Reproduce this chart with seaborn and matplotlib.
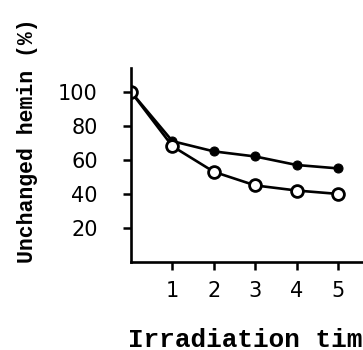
import numpy as np
import matplotlib
matplotlib.use('Agg')
import matplotlib.pyplot as plt
import seaborn as sns

# irradiation time and % unchanged hemin
time = [0, 1, 2, 3, 4, 5]
filled_pct = [100, 71, 65, 62, 57, 55]
open_pct = [100, 68, 53, 45, 42, 40]
x_ticks = [1, 2, 3, 4, 5]
y_ticks = [20, 40, 60, 80, 100]

sns.set_style('ticks')
plt.rcParams['font.family'] = ['DejaVu Sans']

fig = plt.figure(figsize=(3.63, 3.5), dpi=100)
ax = fig.add_axes([131/363, 88/350, 232/363, 194/350])

sns.lineplot(x=time, y=filled_pct, ax=ax, color='black', linewidth=1.9,
             marker='o', markersize=6.5, markerfacecolor='black',
             markeredgecolor='black')
sns.lineplot(x=time, y=open_pct, ax=ax, color='black', linewidth=1.9,
             marker='o', markersize=8.5, markerfacecolor='white',
             markeredgecolor='black', markeredgewidth=2)

ax.set_xlim(0, 5.6)
ax.set_ylim(0, 114)
ax.set_xticks(x_ticks)
ax.set_yticks(y_ticks)
ax.tick_params(axis='both', direction='out', length=6, width=1.8,
               color='black', labelsize=15, labelcolor='black')
ax.tick_params(axis='y', pad=18)
ax.tick_params(axis='x', pad=8)

sns.despine(ax=ax)
for side in ['left', 'bottom']:
    ax.spines[side].set_linewidth(1.9)
    ax.spines[side].set_color('black')

ax.set_ylabel('Unchanged hemin (%)', family='Liberation Mono', fontsize=15.5,
              fontweight='bold', color='black')
ax.yaxis.set_label_coords(-0.40, 0.624)
ax.set_xlabel('Irradiation time (min)', family='Liberation Mono', fontsize=18.7,
              fontweight='bold', color='black', ha='left', va='center')
ax.xaxis.set_label_coords(-0.013, -0.40)

fig.savefig('out.png', dpi=100)
